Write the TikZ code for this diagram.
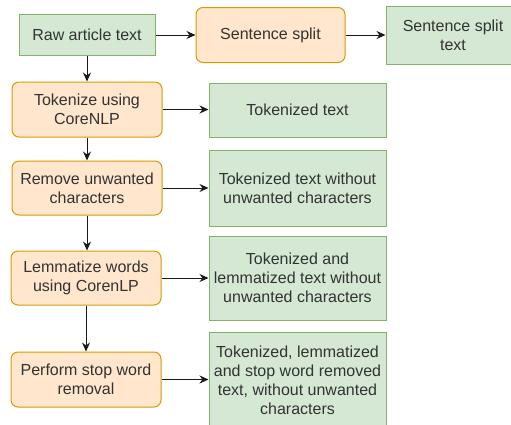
\documentclass[tikz,border=0pt]{standalone}
\usepackage{fontspec}
\setmainfont{Liberation Sans}
\usetikzlibrary{arrows.meta}
\definecolor{gfill}{HTML}{D5E8D4}
\definecolor{gline}{HTML}{82B366}
\definecolor{ofill}{HTML}{FFE6CC}
\definecolor{oline}{HTML}{D79B00}
\definecolor{txt}{HTML}{333333}
\definecolor{arr}{HTML}{1A1A1A}
\begin{document}
\begin{tikzpicture}[x=1pt,y=-1pt,
  base/.style={line width=1pt, text=txt, align=center, inner sep=0pt,
    font=\fontsize{16}{19}\selectfont},
  gbox/.style={base, draw=gline, fill=gfill},
  obox/.style={base, draw=oline, fill=ofill, rounded corners=7pt},
  conn/.style={draw=arr, line width=1pt, -{Stealth[length=9pt,width=8pt]}}]
\useasboundingbox (0,0) rectangle (511,424);
\clip (0,0) rectangle (511,424);
\fill[white] (0,0) rectangle (511,424);
\node[gbox, minimum width=136pt, minimum height=41pt] (raw) at (87,35) {Raw article text};
\node[obox, minimum width=149pt, minimum height=55pt] (split) at (270.5,35) {Sentence split};
\node[gbox, minimum width=134pt, minimum height=58pt] (splittext) at (453,35) {Sentence split\\text};
\node[obox, minimum width=150pt, minimum height=55pt] (tok) at (87,109.5) {Tokenize using\\CoreNLP};
\node[gbox, minimum width=177pt, minimum height=54pt] (toktext) at (297.5,110) {Tokenized text};
\node[obox, minimum width=150pt, minimum height=54pt] (rem) at (87,188) {Remove unwanted\\characters};
\node[gbox, minimum width=177pt, minimum height=76pt] (remtext) at (297.5,188) {Tokenized text without\\unwanted characters};
\node[obox, minimum width=150pt, minimum height=54pt] (lem) at (86,278) {Lemmatize words\\using CorenLP};
\node[gbox, minimum width=177pt, minimum height=84pt] (lemtext) at (297.5,278) {Tokenized and\\lemmatized text without\\unwanted characters};
\node[obox, minimum width=150pt, minimum height=55pt] (perf) at (86,379.5) {Perform stop word\\removal};
\node[gbox, minimum width=177pt, minimum height=96pt] (perftext) at (297.5,380) {Tokenized, lemmatized\\and stop word removed\\text, without unwanted\\characters};
\draw[conn] (raw.east) -- (raw.east -| split.west);
\draw[conn] (split.east) -- (split.east -| splittext.west);
\draw[conn] (raw.south) -- (raw.south |- tok.north);
\draw[conn] (tok.east) -- (tok.east -| toktext.west);
\draw[conn] (tok.south) -- (tok.south |- rem.north);
\draw[conn] (rem.east) -- (rem.east -| remtext.west);
\draw[conn] (rem.south) -- (rem.south |- lem.north);
\draw[conn] (lem.east) -- (lem.east -| lemtext.west);
\draw[conn] (lem.south) -- (lem.south |- perf.north);
\draw[conn] (perf.east) -- (perf.east -| perftext.west);
\end{tikzpicture}
\end{document}
